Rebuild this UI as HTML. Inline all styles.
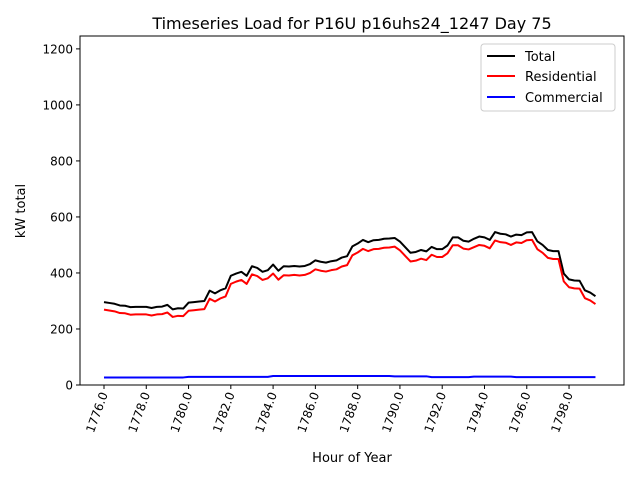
<!DOCTYPE html>
<html><head><meta charset="utf-8"><style>
body{margin:0;background:#fff;font-family:"DejaVu Sans","Liberation Sans",sans-serif;}
svg text{font-family:"DejaVu Sans","Liberation Sans",sans-serif;}
</style></head><body>
<svg id="chart" width="640" height="480" xmlns="http://www.w3.org/2000/svg">
<rect width="640" height="480" fill="#fff"/>
<text x="352" y="29" font-size="16" text-anchor="middle">Timeseries Load for P16U p16uhs24_1247  Day 75</text>
<text x="352" y="462" font-size="13" text-anchor="middle">Hour of Year</text>
<text x="0" y="0" font-size="13" text-anchor="middle" transform="translate(25,211) rotate(-90)">kW total</text>
<g id="ticks"></g>
<g id="series"></g>
<rect x="80" y="36" width="544" height="349" fill="none" stroke="#000" stroke-width="1"/>
<g>
<rect x="481" y="44" width="134" height="67" fill="#fff" stroke="#ccc" rx="3"/>
<line x1="487" y1="56" x2="515" y2="56" stroke="#000" stroke-width="2"/>
<text x="525" y="61" font-size="13">Total</text>
<line x1="487" y1="76" x2="515" y2="76" stroke="#f00" stroke-width="2"/>
<text x="525" y="81" font-size="13">Residential</text>
<line x1="487" y1="97" x2="515" y2="97" stroke="#00f" stroke-width="2"/>
<text x="525" y="102" font-size="13">Commercial</text>
</g>
</svg>
<script>
const startHour = 1776;
const stepHours = 0.25;
const total = [296,293,290,284,283,278,279,279,279,275,279,280,286,270,274,273,
294,296,298,300,337,327,338,345,390,398,404,390,424,418,404,410,
430,408,424,423,425,423,425,432,445,440,437,442,445,455,460,
495,505,518,510,517,518,522,523,525,512,492,472,475,482,477,
493,485,485,498,527,527,515,512,522,530,527,518,546,540,538,530,
537,535,545,546,513,500,482,478,478,398,377,373,372,338,330,317];
const residential = [269,266,263,257,256,251,252,252,252,248,252,253,259,243,247,246,
265,267,269,271,308,298,309,316,361,369,375,361,395,389,375,381,
398,376,392,391,393,391,393,400,413,408,405,410,413,423,428,
463,473,486,478,485,486,490,491,494,481,461,441,444,451,446,
465,457,457,470,499,499,487,484,492,500,497,488,516,510,508,500,
509,507,517,518,485,472,454,450,450,370,349,345,344,310,302,289];
const commercial = [27,27,27,27,27,27,27,27,27,27,27,27,27,27,27,27,
29,29,29,29,29,29,29,29,29,29,29,29,29,29,29,29,
32,32,32,32,32,32,32,32,32,32,32,32,32,32,32,
32,32,32,32,32,32,32,32,31,31,31,31,31,31,31,
28,28,28,28,28,28,28,28,30,30,30,30,30,30,30,30,
28,28,28,28,28,28,28,28,28,28,28,28,28,28,28,28];
const xTicks = [1776,1778,1780,1782,1784,1786,1788,1790,1792,1794,1796,1798];
const yTicks = [0,200,400,600,800,1000,1200];

const NS="http://www.w3.org/2000/svg";
const X0=80,X1=624,Y0=385,Y1=36;
const xMin=1774.865,xMax=1800.6,yMin=0,yMax=1246;
const xs=h=>X0+(h-xMin)/(xMax-xMin)*(X1-X0);
const ys=v=>Y0-(v-yMin)/(yMax-yMin)*(Y0-Y1);
function mk(tag,attrs){const e=document.createElementNS(NS,tag);for(const k in attrs)e.setAttribute(k,attrs[k]);return e;}
const tg=document.getElementById('ticks');
xTicks.forEach(t=>{
  const x=xs(t);
  const l=mk('line',{x1:x,x2:x,y1:Y0,y2:Y0+4,stroke:'#000'});
  
  
  tg.appendChild(l);
  const tx=mk('text',{'font-size':12,'text-anchor':'end',transform:`translate(${x+4},${Y0+9}) rotate(-70)`});
  tx.textContent=t.toFixed(1);
  
  
  tg.appendChild(tx);
});
yTicks.forEach(t=>{
  const y=ys(t);
  const l=mk('line',{x1:X0-4,x2:X0,y1:y,y2:y,stroke:'#000'});
  
  
  tg.appendChild(l);
  const tx=mk('text',{x:X0-7,y:y+4.5,'font-size':12,'text-anchor':'end'});
  tx.textContent=t;
  
  
  tg.appendChild(tx);
});
const sg=document.getElementById('series');
[[total,'#000','total-line'],[residential,'#f00','residential-line'],[commercial,'#00f','commercial-line']].forEach(([arr,c,n])=>{
  const d=arr.map((v,i)=>(i?'L':'M')+xs(startHour+i*stepHours).toFixed(2)+','+ys(v).toFixed(2)).join('');
  const p=mk('path',{d:d,fill:'none',stroke:c,'stroke-width':2,'stroke-linejoin':'round'});
  
  
  sg.appendChild(p);
});
</script>
</body></html>
